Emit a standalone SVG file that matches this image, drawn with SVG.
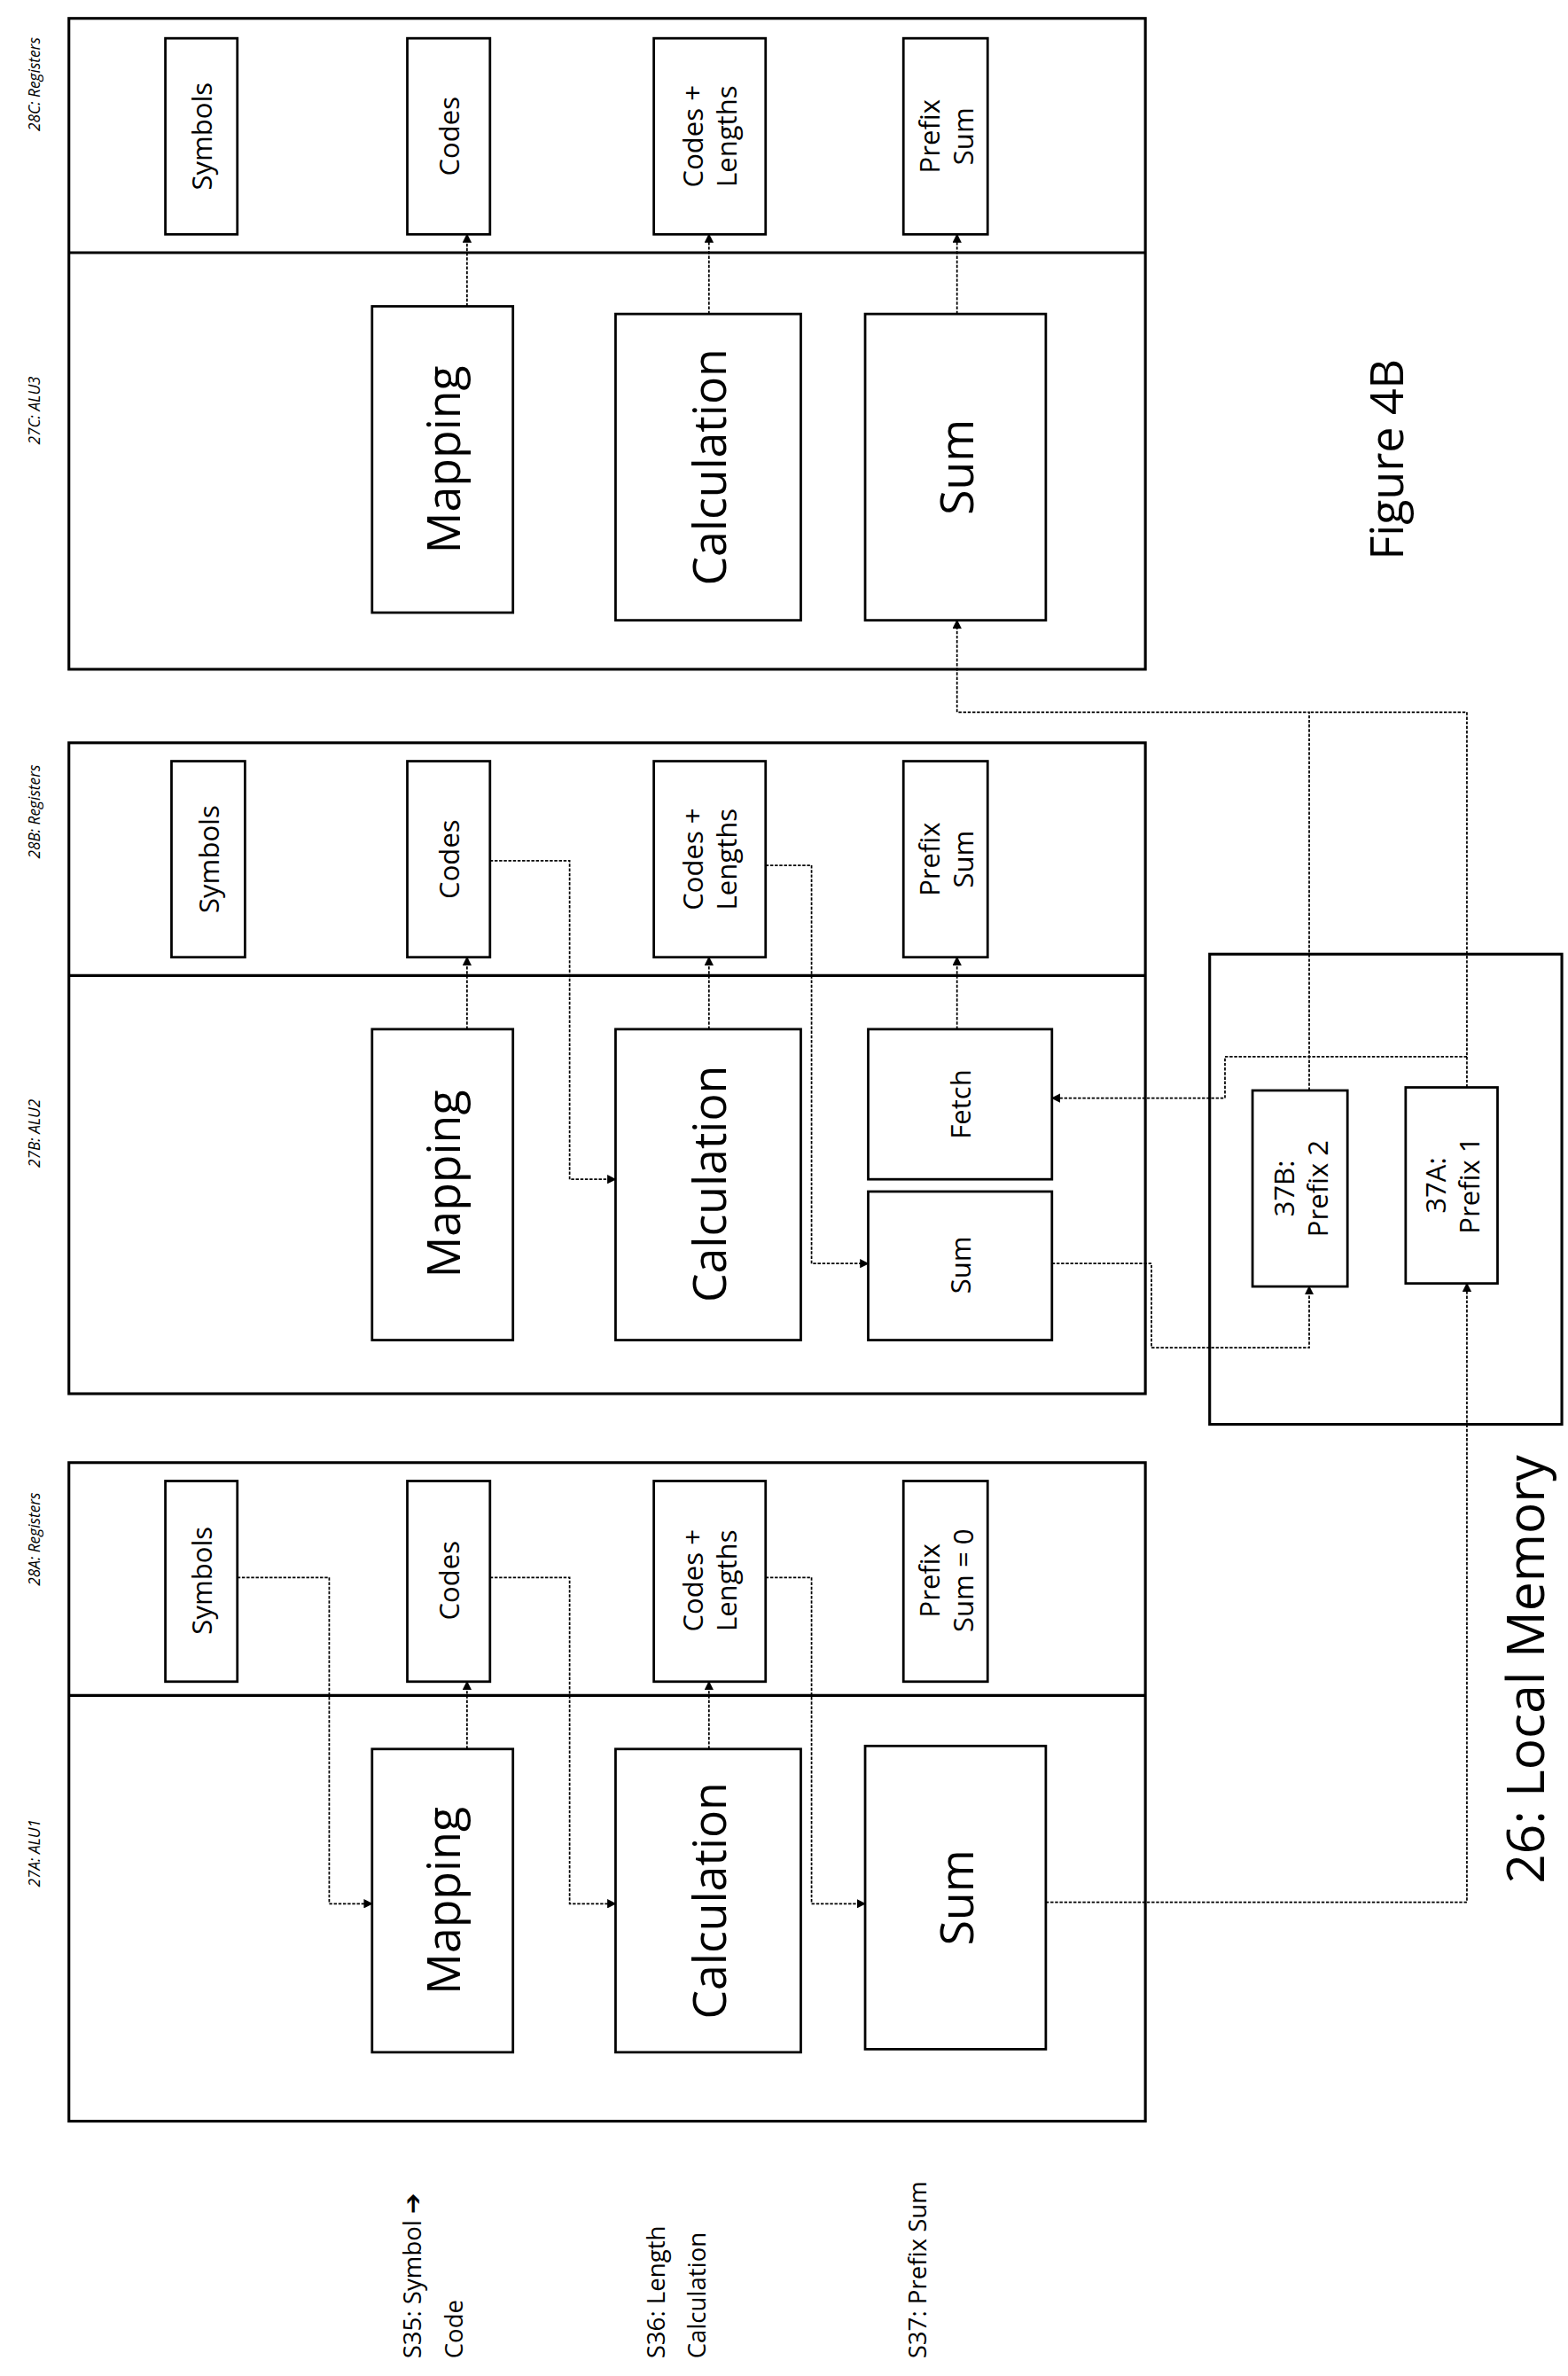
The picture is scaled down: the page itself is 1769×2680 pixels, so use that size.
<svg xmlns="http://www.w3.org/2000/svg" width="1769" height="2680" viewBox="0 0 1769 2680">
<defs>
<marker id="ah" viewBox="0 0 10 10" refX="9" refY="5" markerWidth="6" markerHeight="6" orient="auto-start-reverse" markerUnits="userSpaceOnUse"><path d="M0,0 L10,5 L0,10 z" fill="#000"/></marker>
<style>
.box{fill:#fff;stroke:#000;stroke-width:1.6}
.frame{fill:none;stroke:#000;stroke-width:1.8}
.con{fill:none;stroke:#000;stroke-width:1;stroke-dasharray:2 1}
text{font-family:"Open Sans","Liberation Sans",sans-serif;fill:#000}
.big{font-size:30px}
.mid{font-size:18px}
.sm{font-size:10px;font-style:italic}
</style>
</defs>
<rect width="1769" height="2680" fill="#fff"/>
<g transform="scale(1.7275)">
<g id="panelC">
<rect class="frame" x="45" y="12" width="703" height="425"/>
<line class="frame" x1="45" y1="165" x2="748" y2="165"/>
<text class="sm" transform="translate(22,55) rotate(-90)" text-anchor="middle" dominant-baseline="central">28C: Registers</text>
<text class="sm" transform="translate(22,268) rotate(-90)" text-anchor="middle" dominant-baseline="central">27C: ALU3</text>
</g>
<g id="C_symbols"><rect class="box" x="108" y="25" width="47" height="128"/><text class="mid" transform="translate(131.5,89) rotate(-90)" text-anchor="middle" dominant-baseline="central">Symbols</text></g>
<g id="C_codes"><rect class="box" x="266" y="25" width="54" height="128"/><text class="mid" transform="translate(293,89) rotate(-90)" text-anchor="middle" dominant-baseline="central">Codes</text></g>
<g id="C_cl"><rect class="box" x="427" y="25" width="73" height="128"/><text class="mid" transform="translate(463,89) rotate(-90)" text-anchor="middle" dominant-baseline="central"><tspan x="0" dy="-11">Codes +</tspan><tspan x="0" dy="22">Lengths</tspan></text></g>
<g id="C_prefix"><rect class="box" x="590" y="25" width="55" height="128"/><text class="mid" transform="translate(617.5,89) rotate(-90)" text-anchor="middle" dominant-baseline="central"><tspan x="0" dy="-11">Prefix</tspan><tspan x="0" dy="22">Sum</tspan></text></g>
<g id="C_mapping"><rect class="box" x="243" y="200" width="92" height="200"/><text class="big" transform="translate(289,300) rotate(-90)" text-anchor="middle" dominant-baseline="central">Mapping</text></g>
<g id="C_calc"><rect class="box" x="402" y="205" width="121" height="200"/><text class="big" transform="translate(462.5,305) rotate(-90)" text-anchor="middle" dominant-baseline="central">Calculation</text></g>
<g id="C_sum"><rect class="box" x="565" y="205" width="118" height="200"/><text class="big" transform="translate(624,305) rotate(-90)" text-anchor="middle" dominant-baseline="central">Sum</text></g>

<g id="panelB">
<rect class="frame" x="45" y="485" width="703" height="425"/>
<line class="frame" x1="45" y1="637" x2="748" y2="637"/>
<text class="sm" transform="translate(22,530) rotate(-90)" text-anchor="middle" dominant-baseline="central">28B: Registers</text>
<text class="sm" transform="translate(22,740) rotate(-90)" text-anchor="middle" dominant-baseline="central">27B: ALU2</text>
</g>
<g id="B_symbols"><rect class="box" x="112" y="497" width="48" height="128"/><text class="mid" transform="translate(136,561) rotate(-90)" text-anchor="middle" dominant-baseline="central">Symbols</text></g>
<g id="B_codes"><rect class="box" x="266" y="497" width="54" height="128"/><text class="mid" transform="translate(293,561) rotate(-90)" text-anchor="middle" dominant-baseline="central">Codes</text></g>
<g id="B_cl"><rect class="box" x="427" y="497" width="73" height="128"/><text class="mid" transform="translate(463,561) rotate(-90)" text-anchor="middle" dominant-baseline="central"><tspan x="0" dy="-11">Codes +</tspan><tspan x="0" dy="22">Lengths</tspan></text></g>
<g id="B_prefix"><rect class="box" x="590" y="497" width="55" height="128"/><text class="mid" transform="translate(617.5,561) rotate(-90)" text-anchor="middle" dominant-baseline="central"><tspan x="0" dy="-11">Prefix</tspan><tspan x="0" dy="22">Sum</tspan></text></g>
<g id="B_mapping"><rect class="box" x="243" y="672" width="92" height="203"/><text class="big" transform="translate(289,773) rotate(-90)" text-anchor="middle" dominant-baseline="central">Mapping</text></g>
<g id="B_calc"><rect class="box" x="402" y="672" width="121" height="203"/><text class="big" transform="translate(462.5,773) rotate(-90)" text-anchor="middle" dominant-baseline="central">Calculation</text></g>
<g id="B_fetch"><rect class="box" x="567" y="672" width="120" height="98"/><text class="mid" transform="translate(627,721) rotate(-90)" text-anchor="middle" dominant-baseline="central">Fetch</text></g>
<g id="B_sum"><rect class="box" x="567" y="778" width="120" height="97"/><text class="mid" transform="translate(627,826) rotate(-90)" text-anchor="middle" dominant-baseline="central">Sum</text></g>

<g id="localmem">
<rect class="frame" x="790" y="623" width="230" height="307"/>
<text transform="translate(995,1090) rotate(-90)" text-anchor="middle" dominant-baseline="central" font-size="34">26: Local Memory</text>
</g>
<g id="p37B"><rect class="box" x="818" y="712" width="62" height="128"/><text class="mid" transform="translate(849,776) rotate(-90)" text-anchor="middle" dominant-baseline="central"><tspan x="0" dy="-11">37B:</tspan><tspan x="0" dy="22">Prefix 2</tspan></text></g>
<g id="p37A"><rect class="box" x="918" y="710" width="60" height="128"/><text class="mid" transform="translate(948,774) rotate(-90)" text-anchor="middle" dominant-baseline="central"><tspan x="0" dy="-11">37A:</tspan><tspan x="0" dy="22">Prefix 1</tspan></text></g>

<g id="panelA">
<rect class="frame" x="45" y="955" width="703" height="430"/>
<line class="frame" x1="45" y1="1107" x2="748" y2="1107"/>
<text class="sm" transform="translate(22,1005) rotate(-90)" text-anchor="middle" dominant-baseline="central">28A: Registers</text>
<text class="sm" transform="translate(22,1210) rotate(-90)" text-anchor="middle" dominant-baseline="central">27A: ALU1</text>
</g>
<g id="A_symbols"><rect class="box" x="108" y="967" width="47" height="131"/><text class="mid" transform="translate(131.5,1032) rotate(-90)" text-anchor="middle" dominant-baseline="central">Symbols</text></g>
<g id="A_codes"><rect class="box" x="266" y="967" width="54" height="131"/><text class="mid" transform="translate(293,1032) rotate(-90)" text-anchor="middle" dominant-baseline="central">Codes</text></g>
<g id="A_cl"><rect class="box" x="427" y="967" width="73" height="131"/><text class="mid" transform="translate(463,1032) rotate(-90)" text-anchor="middle" dominant-baseline="central"><tspan x="0" dy="-11">Codes +</tspan><tspan x="0" dy="22">Lengths</tspan></text></g>
<g id="A_prefix"><rect class="box" x="590" y="967" width="55" height="131"/><text class="mid" transform="translate(617.5,1032) rotate(-90)" text-anchor="middle" dominant-baseline="central"><tspan x="0" dy="-11">Prefix</tspan><tspan x="0" dy="22">Sum = 0</tspan></text></g>
<g id="A_mapping"><rect class="box" x="243" y="1142" width="92" height="198"/><text class="big" transform="translate(289,1241) rotate(-90)" text-anchor="middle" dominant-baseline="central">Mapping</text></g>
<g id="A_calc"><rect class="box" x="402" y="1142" width="121" height="198"/><text class="big" transform="translate(462.5,1241) rotate(-90)" text-anchor="middle" dominant-baseline="central">Calculation</text></g>
<g id="A_sum"><rect class="box" x="565" y="1140" width="118" height="198"/><text class="big" transform="translate(624,1239) rotate(-90)" text-anchor="middle" dominant-baseline="central">Sum</text></g>

<g id="steps">
<text font-size="16" transform="translate(0,1540) rotate(-90)"><tspan x="0" y="275">S35: Symbol ➔</tspan><tspan x="0" y="302">Code</tspan></text>
<text font-size="16" transform="translate(0,1540) rotate(-90)"><tspan x="0" y="434">S36: Length</tspan><tspan x="0" y="461">Calculation</tspan></text>
<text font-size="16" transform="translate(0,1540) rotate(-90)"><tspan x="0" y="605">S37: Prefix Sum</tspan></text>
</g>
<g id="figlabel"><text transform="translate(905,300) rotate(-90)" text-anchor="middle" dominant-baseline="central" font-size="30">Figure 4B</text></g>

<g id="connectors">
<line class="con" x1="305" y1="200" x2="305" y2="153" marker-end="url(#ah)"/>
<line class="con" x1="463" y1="205" x2="463" y2="153" marker-end="url(#ah)"/>
<line class="con" x1="625" y1="205" x2="625" y2="153" marker-end="url(#ah)"/>
<polyline class="con" points="855,712 855,465 625,465 625,405" marker-end="url(#ah)"/>
<polyline class="con" points="958,710 958,465 855,465"/>

<line class="con" x1="305" y1="672" x2="305" y2="625" marker-end="url(#ah)"/>
<line class="con" x1="463" y1="672" x2="463" y2="625" marker-end="url(#ah)"/>
<line class="con" x1="625" y1="672" x2="625" y2="625" marker-end="url(#ah)"/>
<polyline class="con" points="320,562 372,562 372,770 402,770" marker-end="url(#ah)"/>
<polyline class="con" points="500,565 530,565 530,825 567,825" marker-end="url(#ah)"/>
<polyline class="con" points="687,825 752,825 752,880 855,880 855,840" marker-end="url(#ah)"/>
<polyline class="con" points="958,690 800,690 800,717 687,717" marker-end="url(#ah)"/>

<line class="con" x1="305" y1="1142" x2="305" y2="1098" marker-end="url(#ah)"/>
<line class="con" x1="463" y1="1142" x2="463" y2="1098" marker-end="url(#ah)"/>
<polyline class="con" points="155,1030 215,1030 215,1243 243,1243" marker-end="url(#ah)"/>
<polyline class="con" points="320,1030 372,1030 372,1243 402,1243" marker-end="url(#ah)"/>
<polyline class="con" points="500,1030 530,1030 530,1243 565,1243" marker-end="url(#ah)"/>
<polyline class="con" points="683,1242 958,1242 958,838" marker-end="url(#ah)"/>
</g>
</g>
</svg>
